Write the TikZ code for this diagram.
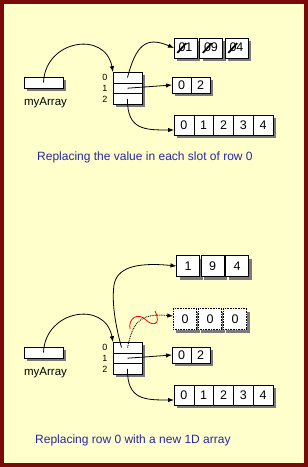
\documentclass[tikz,border=0pt]{standalone}
\usepackage{fontspec}
\setmainfont{Liberation Sans}
\usepackage{graphicx}
\usepackage{tikz}
\usetikzlibrary{arrows.meta, positioning, shadows}
\definecolor{pagebg}{HTML}{FFFFCC}
\definecolor{framered}{HTML}{7A0A0A}
\definecolor{capblue}{HTML}{2828A0}
\definecolor{shadowgray}{HTML}{7A7A7A}
\definecolor{scribblered}{HTML}{FF0000}
\tikzstyle{cell} = [rectangle, draw=black, fill=white, line width=0.6pt,
  inner sep=0pt, outer sep=0pt, font=\fontsize{12.5}{14}\selectfont,
  drop shadow={shadow xshift=3pt, shadow yshift=-3pt, fill=shadowgray, opacity=1}]
\tikzstyle{oldcell} = [cell, densely dotted, line width=0.9pt]
\tikzstyle{slot} = [cell, minimum width=29pt, minimum height=10.7pt]
\tikzstyle{refbox} = [cell, minimum width=39pt, minimum height=11pt]
\tikzstyle{idx} = [inner sep=0pt, font=\fontsize{9}{10}\selectfont]
\tikzstyle{varname} = [inner sep=0pt, font=\fontsize{11.5}{13}\selectfont]
\tikzstyle{caption} = [inner sep=0pt, anchor=west, text=capblue,
  font=\fontsize{12}{14}\selectfont]
\tikzstyle{ptr} = [-{Latex[length=6pt,width=4.5pt]}, line width=0.8pt]
\tikzstyle{oldptr} = [ptr, densely dotted, line width=1pt]
\tikzstyle{scribble} = [draw=scribblered, line width=0.8pt]
\newcommand{\oldval}[1]{\makebox[0pt][l]{\hspace{-0.15em}\raisebox{-0.15em}{\rotatebox{48}{\rule{1.05em}{1.8pt}}}}#1}

\begin{document}
\begin{tikzpicture}[x=1pt, y=-1pt]

  \useasboundingbox (0,0) rectangle (308,467);
  \fill[pagebg] (0,0) rectangle (308,467);
  \draw[framered, line width=4pt] (2,2) rectangle (306,465);

  % Top: values replaced in row 0
  \node[refbox] (arr) at (43.5,82.5) {};
  \node[varname, below=9pt of arr, xshift=2pt] (arrname) {myArray};

  \node[slot] (s0) at (127.5,77.5) {};
  \node[slot, below=0pt of s0] (s1) {};
  \node[slot, below=0pt of s1] (s2) {};
  \node[idx, left=5.5pt of s0] (i0) {0};
  \node[idx, left=5.5pt of s1] (i1) {1};
  \node[idx, left=5.5pt of s2] (i2) {2};

  \node[cell, minimum width=23pt, minimum height=20pt] (a0) at (185.5,48) {\oldval{0}1};
  \node[cell, minimum width=23pt, minimum height=20pt, right=2.5pt of a0] (a1) {\oldval{0}9};
  \node[cell, minimum width=23pt, minimum height=20pt, right=2.5pt of a1] (a2) {\oldval{0}4};

  \node[cell, minimum width=19pt, minimum height=16pt] (b0) at (181.5,85) {0};
  \node[cell, minimum width=19pt, minimum height=16pt, right=0pt of b0] (b1) {2};

  \node[cell, minimum width=19.8pt, minimum height=20pt] (c0) at (183.9,125) {0};
  \node[cell, minimum width=19.8pt, minimum height=20pt, right=0pt of c0] (c1) {1};
  \node[cell, minimum width=19.8pt, minimum height=20pt, right=0pt of c1] (c2) {2};
  \node[cell, minimum width=19.8pt, minimum height=20pt, right=0pt of c2] (c3) {3};
  \node[cell, minimum width=19.8pt, minimum height=20pt, right=0pt of c3] (c4) {4};

  \node[caption] (captop) at (37,157) {Replacing the value in each slot of row 0};

  \draw[ptr] (arr.center) .. controls (45,40) and (105,30) .. (s0.north west);
  \draw[ptr] (s0.center) .. controls (136,45) and (146,36) .. (a0.west);
  \draw[ptr] (s1.center) -- (b0.west);
  \draw[ptr] (s2.center) .. controls (127,130) and (145,130) .. ([yshift=-5pt]c0.west);

  % Bottom: row 0 replaced by a new array
  \node[refbox] (arrB) at (43.5,352.5) {};
  \node[varname, below=9pt of arrB, xshift=2pt] (arrBname) {myArray};

  \node[slot] (t0) at (127.5,347.5) {};
  \node[slot, below=0pt of t0] (t1) {};
  \node[slot, below=0pt of t1] (t2) {};
  \node[idx, left=5.5pt of t0] (j0) {0};
  \node[idx, left=5.5pt of t1] (j1) {1};
  \node[idx, left=5.5pt of t2] (j2) {2};

  \node[cell, minimum width=23pt, minimum height=21pt] (n0) at (188,266) {1};
  \node[cell, minimum width=23pt, minimum height=21pt, right=1.5pt of n0] (n1) {9};
  \node[cell, minimum width=23pt, minimum height=21pt, right=1.5pt of n1] (n2) {4};

  \node[oldcell, minimum width=23.5pt, minimum height=21pt] (d0) at (185,319) {0};
  \node[oldcell, minimum width=23.5pt, minimum height=21pt, right=1.5pt of d0] (d1) {0};
  \node[oldcell, minimum width=23.5pt, minimum height=21pt, right=1.5pt of d1] (d2) {0};

  \node[cell, minimum width=19pt, minimum height=16pt] (e0) at (181.5,355) {0};
  \node[cell, minimum width=19pt, minimum height=16pt, right=0pt of e0] (e1) {2};

  \node[cell, minimum width=19.8pt, minimum height=20pt] (f0) at (183.9,395) {0};
  \node[cell, minimum width=19.8pt, minimum height=20pt, right=0pt of f0] (f1) {1};
  \node[cell, minimum width=19.8pt, minimum height=20pt, right=0pt of f1] (f2) {2};
  \node[cell, minimum width=19.8pt, minimum height=20pt, right=0pt of f2] (f3) {3};
  \node[cell, minimum width=19.8pt, minimum height=20pt, right=0pt of f3] (f4) {4};

  \node[caption] (capbot) at (35,440) {Replacing row 0 with a new 1D array};

  \draw[ptr] (arrB.center) .. controls (45,310) and (105,300) .. (t0.north west);
  \draw[ptr] ([xshift=-6pt]t0.center) .. controls (114,320) and (112,300) .. (114,285)
    .. controls (117,268) and (135,262) .. (n0.west);
  \draw[oldptr] (t0.center) .. controls (133,322) and (140,313) .. ([yshift=3pt]d0.west);
  \draw[scribble] (130,329) .. controls (128,318) and (138,312) .. (146,320)
    .. controls (152,326) and (162,326) .. (155,311);
  \draw[ptr] (t1.center) -- (e0.west);
  \draw[ptr] (t2.center) .. controls (127,400) and (145,400) .. ([yshift=-5pt]f0.west);

\end{tikzpicture}
\end{document}
